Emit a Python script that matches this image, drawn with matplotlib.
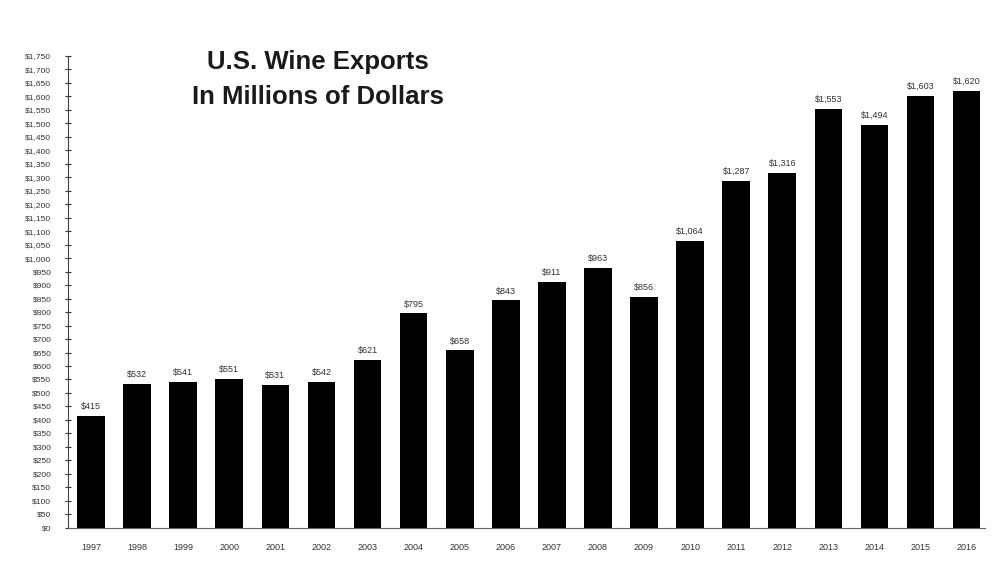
import matplotlib
matplotlib.use("Agg")
import matplotlib.pyplot as plt
from matplotlib.ticker import FuncFormatter, MultipleLocator

years = ["1997", "1998", "1999", "2000", "2001", "2002", "2003", "2004", "2005", "2006",
         "2007", "2008", "2009", "2010", "2011", "2012", "2013", "2014", "2015", "2016"]
exports = [415, 532, 541, 551, 531, 542, 621, 795, 658, 843,
           911, 963, 856, 1064, 1287, 1316, 1553, 1494, 1603, 1620]

plt.rcParams['font.family'] = ['Liberation Sans', 'DejaVu Sans']

fig = plt.figure(figsize=(10, 5.7), dpi=100)
ax = fig.add_axes([0.068, 0.074, 0.917, 0.828])

x = list(range(len(years)))
bars = ax.bar(x, exports, width=0.6, color='black')

for xi, v in zip(x, exports):
    ax.text(xi, v + 18, f"${v:,}", ha='center', va='bottom', fontsize=6.5, color='#333333')

ax.set_xlim(-0.5, 19.4)
ax.set_ylim(0, 1750)
ax.set_xticks(x)
ax.set_xticklabels(years, fontsize=6.5, color='#333333')
ax.yaxis.set_major_locator(MultipleLocator(50))
ax.yaxis.set_major_formatter(FuncFormatter(lambda v, p: f"${int(v):,}"))
ax.tick_params(axis='y', labelsize=6, colors='#333333', direction='inout', length=4, width=0.8, pad=10)
ax.tick_params(axis='x', length=0, pad=11)
for s in ['top', 'right']:
    ax.spines[s].set_visible(False)
ax.spines['left'].set_color('#444444')
ax.spines['bottom'].set_color('#666666')

fig.text(0.318, 0.861, "U.S. Wine Exports\nIn Millions of Dollars", ha='center', va='center',
         fontsize=18.5, fontweight='bold', color='#1a1a1a', linespacing=1.6)

fig.savefig("out.png", dpi=100, facecolor='white')
